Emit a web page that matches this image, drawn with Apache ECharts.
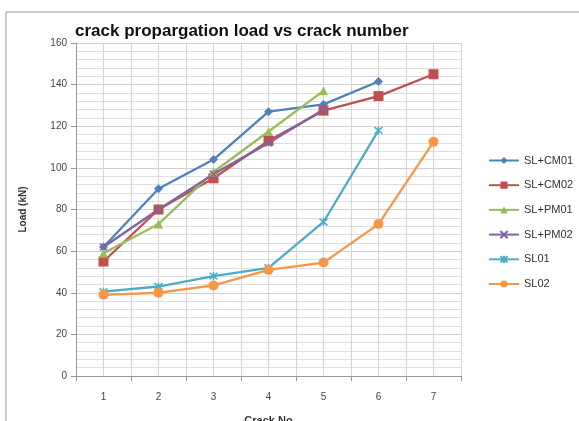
<!DOCTYPE html>
<html><head><meta charset="utf-8">
<script src="https://cdn.jsdelivr.net/npm/echarts@6/dist/echarts.min.js"></script>
<style>html,body{margin:0;padding:0;background:#fff}#c{width:579px;height:421px}</style>
</head><body><div id="c"></div>
<script>
const categories = ['1','2','3','4','5','6','7'];
const slcm01 = [62, 90, 104, 127, 130.5, 141.5];
const slcm02 = [55, 80, 95, 113, 127.5, 134.5, 145];
const slpm01 = [59, 73, 98, 117.5, 137];
const slpm02 = [62, 80, 97, 112, 128];
const sl01 = [40.5, 43, 48, 52, 74, 118];
const sl02 = [39, 40, 43.5, 51, 54.5, 73, 112.5];
const seriesNames = ['SL+CM01','SL+CM02','SL+PM01','SL+PM02','SL01','SL02'];
const yTicks = {min: 0, max: 160, interval: 20};
const minorCats = Array.from({length: 14}, (_, i) => String(i));

const colors = ['#4F81BD','#C0504D','#9BBB59','#8064A2','#4BACC6','#F79646'];
const symbols = ['diamond','rect','triangle','path://M0,0L10,10M10,0L0,10','path://M0,0L10,10M10,0L0,10M5,-1L5,11','circle'];
const sizes = [9, 10, 9, 7, 8, 10];
const datas = [slcm01, slcm02, slpm01, slpm02, sl01, sl02];

const chart = echarts.init(document.getElementById('c'), null, {renderer: 'canvas'});
chart.setOption({
  animation: false,
  backgroundColor: '#fff',
  graphic: [{type: 'rect', shape: {x: 6, y: 12, width: 600, height: 500}, style: {fill: 'none', stroke: '#9a9a9a', lineWidth: 1}, z: -1}],
  title: {text: 'crack propargation load vs crack number', left: 70, top: 18,
    textStyle: {fontFamily: 'Liberation Sans', fontWeight: 'bold', fontSize: 17, color: '#111'}},
  grid: {left: 76, right: 118, top: 43, bottom: 45, containLabel: false, outerBoundsMode: 'none'},
  legend: {orient: 'vertical', left: 483, top: 150, itemWidth: 30, itemHeight: 9, itemGap: 13.7,
    data: seriesNames,
    textStyle: {fontFamily: 'Liberation Sans', fontSize: 11, color: '#333'}},
  xAxis: [{
    type: 'category', data: categories, boundaryGap: true,
    name: 'Crack No', nameLocation: 'middle', nameGap: 39,
    nameTextStyle: {fontFamily: 'Liberation Sans', fontSize: 11, fontWeight: 'bold', color: '#333'},
    axisLine: {lineStyle: {color: '#999'}},
    axisTick: {show: true, length: 5, lineStyle: {color: '#999'}},
    axisLabel: {fontFamily: 'Liberation Sans', fontSize: 10, color: '#444', margin: 16},
    splitLine: {show: false}
  }, {
    type: 'category', data: minorCats, boundaryGap: true, position: 'bottom',
    axisLine: {show: false}, axisTick: {show: false}, axisLabel: {show: false},
    splitLine: {show: true, lineStyle: {color: '#d6d6d6', width: 1}}
  }],
  yAxis: {
    type: 'value', min: yTicks.min, max: yTicks.max, interval: yTicks.interval,
    name: 'Load (kN)', nameLocation: 'middle', nameGap: 48, nameRotate: 90,
    nameTextStyle: {fontFamily: 'Liberation Sans', fontSize: 10, fontWeight: 'bold', color: '#333'},
    axisLine: {show: true, lineStyle: {color: '#999'}},
    axisTick: {show: true, length: 5, lineStyle: {color: '#999'}},
    axisLabel: {fontFamily: 'Liberation Sans', fontSize: 10, color: '#444', margin: 9},
    splitLine: {show: true, lineStyle: {color: '#cfcfcf'}},
    minorTick: {show: false, splitNumber: 5},
    minorSplitLine: {show: true, lineStyle: {color: '#dedede'}}
  },
  series: seriesNames.map((n, i) => ({
    name: n, type: 'line', data: datas[i], xAxisIndex: 0,
    symbol: symbols[i], symbolSize: sizes[i], showSymbol: true,
    lineStyle: {color: colors[i], width: 2.3},
    itemStyle: {color: colors[i], borderColor: colors[i], borderWidth: (i === 3 || i === 4) ? 1.5 : 0}
  }))
});
</script></body></html>
